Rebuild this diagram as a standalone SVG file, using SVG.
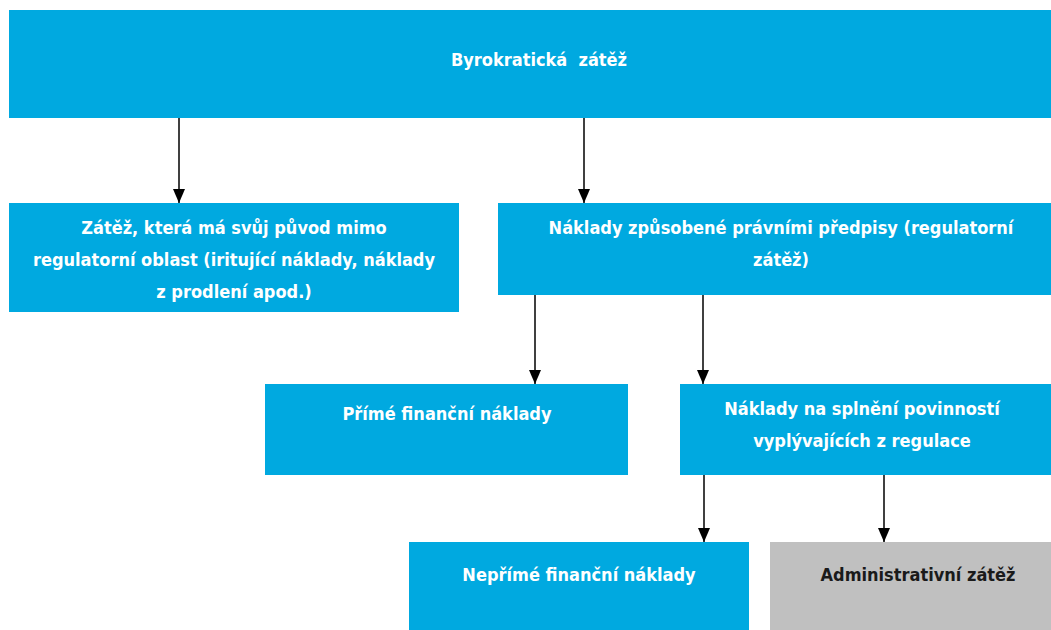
<svg xmlns="http://www.w3.org/2000/svg" width="1051" height="630" viewBox="0 0 1051 630">
<style>
.box{fill:#00A9E0}
.gray{fill:#C0C0C0}
text{font-family:"DejaVu Sans Condensed","DejaVu Sans",sans-serif;font-weight:bold;font-size:18px;fill:#FFFFFF;text-anchor:middle}
.dark{fill:#1a1a1a}
.conn line{stroke:#000;stroke-width:1.5;marker-end:url(#arr)}
</style>
<defs>
<marker id="arr" viewBox="0 0 14 12" refX="14" refY="6" markerWidth="14" markerHeight="12" markerUnits="userSpaceOnUse" orient="auto">
<path d="M0,0 L14,6 L0,12 Z" fill="#000"/>
</marker>
</defs>
<rect width="1051" height="630" fill="#fff"/>
<g id="n1"><rect class="box" x="9" y="10" width="1042" height="108"/><text x="539" y="66" xml:space="preserve">Byrokratická  zátěž</text></g>
<g id="n2"><rect class="box" x="9" y="203" width="450" height="109"/>
<text x="234" y="234">Zátěž, která má svůj původ mimo</text>
<text x="234" y="266">regulatorní oblast (iritující náklady, náklady</text>
<text x="234" y="298">z prodlení apod.)</text></g>
<g id="n3"><rect class="box" x="498" y="203" width="553" height="92"/>
<text x="781" y="234">Náklady způsobené právními předpisy (regulatorní</text>
<text x="781" y="266">zátěž)</text></g>
<g id="n4"><rect class="box" x="265" y="384" width="363" height="91"/>
<text x="447" y="420">Přímé finanční náklady</text></g>
<g id="n5"><rect class="box" x="680" y="384" width="371" height="91"/>
<text x="862" y="415">Náklady na splnění povinností</text>
<text x="862" y="447">vyplývajících z regulace</text></g>
<g id="n6"><rect class="box" x="409" y="542" width="340" height="88"/>
<text x="579" y="581">Nepřímé finanční náklady</text></g>
<g id="n7"><rect class="gray" x="770" y="542" width="281" height="88"/>
<text class="dark" x="918" y="581">Administrativní zátěž</text></g>
<g id="connectors" class="conn">
<line x1="179" y1="118" x2="179" y2="203"/>
<line x1="584" y1="118" x2="584" y2="203"/>
<line x1="535" y1="295" x2="535" y2="384"/>
<line x1="703" y1="295" x2="703" y2="384"/>
<line x1="704" y1="475" x2="704" y2="542"/>
<line x1="884" y1="475" x2="884" y2="542"/>
</g>
</svg>
